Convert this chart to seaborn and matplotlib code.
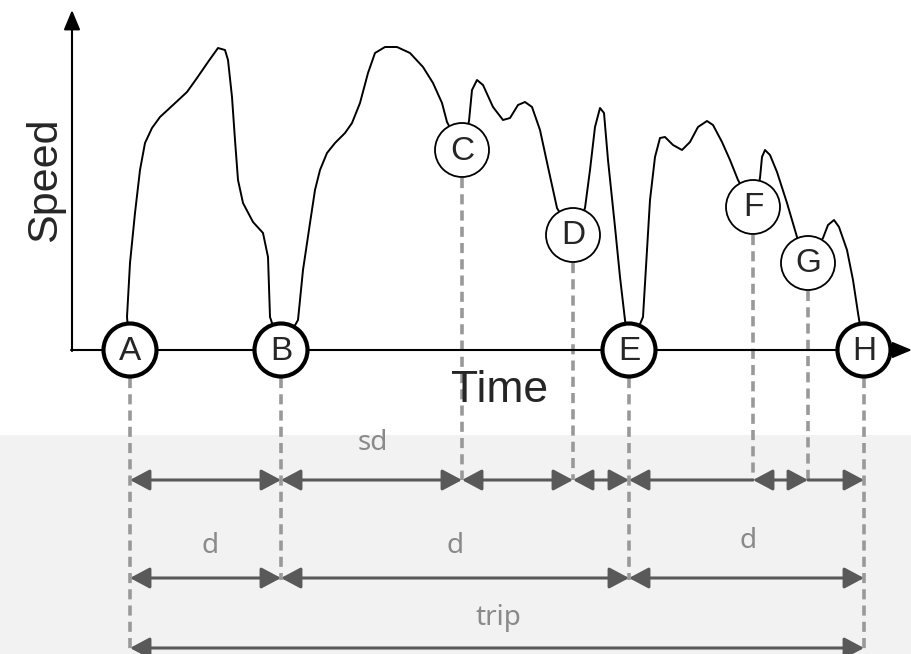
import matplotlib
matplotlib.use('Agg')
import matplotlib.pyplot as plt
from matplotlib.patches import Circle, Rectangle
import seaborn as sns

# speed profile of a trip (time, speed)
time = [58, 55, 58, 63, 68, 73, 80, 88, 101, 115, 125, 136, 146, 153, 156, 160, 163, 166,
        171, 181, 191, 196, 198,
        209, 226, 231, 238, 243, 248, 255, 263, 273, 280, 288, 296, 303, 313, 325, 338, 351,
        361, 370, 375,
        390, 397, 400, 405, 411, 421, 431, 438, 446, 453, 460, 468, 476, 485,
        501, 513, 518, 523, 528, 532, 536, 543, 548, 553,
        557, 571, 575, 578, 583, 588, 593, 601, 610, 618, 626, 635, 641, 650, 658, 666,
        681, 688, 690, 693, 698, 705, 715, 725,
        736, 751, 756, 762, 767, 775, 781, 786, 792]
speed = [0, 33, 87, 137, 180, 207, 222, 233, 245, 258, 272, 288, 302, 300, 290, 253, 210, 170,
         147, 128, 117, 93, 33,
         0, 30, 80, 127, 160, 180, 197, 207, 217, 227, 247, 277, 297, 303, 303, 297, 283,
         267, 247, 228,
         200, 229, 260, 270, 265, 243, 230, 232, 245, 248, 243, 220, 183, 142,
         115, 142, 180, 223, 242, 237, 190, 123, 73, 30,
         0, 33, 100, 150, 193, 212, 213, 205, 200, 208, 223, 229, 225, 208, 190, 170,
         143, 172, 193, 200, 195, 178, 147, 113,
         87, 112, 125, 130, 123, 100, 70, 37, 0]

# stops: full stops on the time axis, short stops on the curve
stop_names = ['A', 'B', 'E', 'H']
stop_time = [58, 209, 557, 792]
short_names = ['C', 'D', 'F', 'G']
short_time = [390, 501, 681, 736]
short_speed = [200, 115, 143, 87]

# interval rows: (start, end, arrow style)
row_sd = [(58, 209, '<|-|>'), (209, 390, '<|-|>'), (390, 501, '<|-|>'), (501, 557, '<|-|>'),
          (557, 681, '<|-'), (681, 736, '<|-|>'), (736, 792, '-|>')]
row_d = [(58, 209), (209, 557), (557, 792)]
row_trip = [(58, 792)]

sns.set_style('white')
fig = plt.figure(figsize=(9.12, 6.54), dpi=100)
ax = fig.add_axes([0, 0, 1, 1])
ax.set_xlim(-72, 840)
ax.set_ylim(-304, 350)
ax.axis('off')

R = 28
y_sd, y_d, y_trip = -130, -228, -298
grey = '#999999'
dark = '#595959'
label_col = '#8a8a8a'
dash = (0, (2.8, 1.7))

ax.add_patch(Rectangle((-72, -304), 912, 219, color='#f2f2f2', zorder=0, lw=0))

# axes arrows
ax.annotate('', xy=(0, 340), xytext=(0, -1),
            arrowprops=dict(arrowstyle='-|>,head_length=0.6,head_width=0.25', color='black',
                            lw=1.5, shrinkA=0, shrinkB=0, mutation_scale=20), zorder=2)
ax.annotate('', xy=(840, 0), xytext=(-1, 0),
            arrowprops=dict(arrowstyle='-|>,head_length=0.6,head_width=0.25', color='black',
                            lw=1.5, shrinkA=0, shrinkB=0, mutation_scale=20), zorder=2)

sns.lineplot(x=time, y=speed, sort=False, estimator=None, color='black', lw=1.4, ax=ax,
             zorder=2, solid_joinstyle='round')

ax.text(-27, 170, 'Speed', rotation=90, ha='center', va='center', fontsize=31,
        family='Liberation Sans')
ax.text(428, -52, 'Time', ha='center', va='baseline', fontsize=32, family='Liberation Sans')

# dashed drop lines
ends = {58: y_trip - 4, 209: y_d - 2, 557: y_d - 2, 792: y_trip - 4}
for t in stop_time:
    ax.plot([t, t], [-R, ends[t]], ls=dash, color=grey, lw=2.6, zorder=1)
for t, v in zip(short_time, short_speed):
    ax.plot([t, t], [v - R, y_sd], ls=dash, color=grey, lw=2.6, zorder=1)

# stop circles
for n, t in zip(stop_names, stop_time):
    ax.add_patch(Circle((t, 0), R - 1.5, facecolor='white', edgecolor='black', lw=3, zorder=4))
    ax.text(t, -1, n, ha='center', va='center', fontsize=24, family='Liberation Sans', zorder=5)
for n, t, v in zip(short_names, short_time, short_speed):
    ax.add_patch(Circle((t, v), R - 1, facecolor='white', edgecolor='black', lw=1.3, zorder=4))
    ax.text(t, v - 1, n, ha='center', va='center', fontsize=24, family='Liberation Sans',
            zorder=5)


def span(t0, t1, y, style='<|-|>'):
    ax.annotate('', xy=(t1, y), xytext=(t0, y),
                arrowprops=dict(arrowstyle=style + ',head_length=0.6,head_width=0.32',
                                color=dark, lw=2.2, shrinkA=0, shrinkB=0, mutation_scale=20),
                zorder=3)


for t0, t1, st in row_sd:
    span(t0, t1, y_sd, st)
for t0, t1 in row_d:
    span(t0, t1, y_d)
for t0, t1 in row_trip:
    span(t0, t1, y_trip)

lab = dict(ha='center', va='center', fontsize=20, color=label_col, family='Noto Sans')
ax.text(301, -93, 'sd', **lab)
ax.text(138, -196, 'd', **lab)
ax.text(383, -196, 'd', **lab)
ax.text(676, -191, 'd', **lab)
ax.text(426, -268, 'trip', **lab)

fig.savefig('out.png', dpi=100)
